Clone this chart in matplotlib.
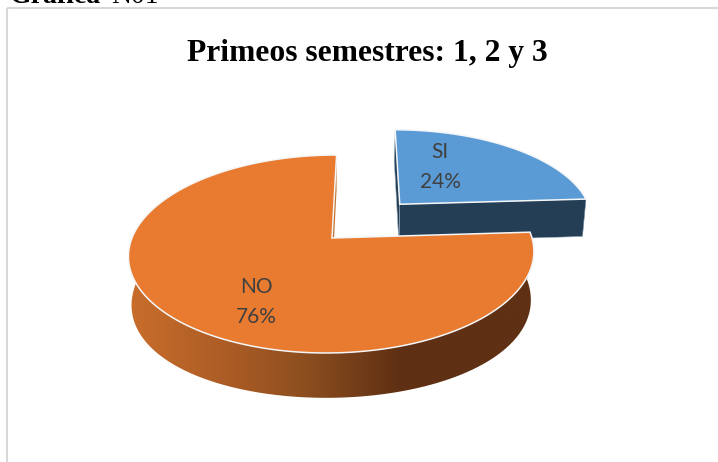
import numpy as np
import matplotlib
matplotlib.use("Agg")
import matplotlib.pyplot as plt
from matplotlib.colors import LinearSegmentedColormap
from matplotlib.patches import Polygon, Rectangle
from matplotlib.path import Path
from matplotlib.transforms import Transform

# data
categories = ["SI", "NO"]
values = [24, 76]
title = "Primeos semestres: 1, 2 y 3"

# style
COLORS = ["#5b9bd5", "#e97b30"]
WALL_BLUE = "#243f55"
WALL_ORANGE = "#c5702c"
TEXT = "#404040"
CX, CY, A, B, K, M, C, S = 332.0, 238.0, 200.0, 96.4, 0.1616, 0.015, 40.0, 0.025


def project(pts, z=0.0, bulge=0.0):
    pts = np.asarray(pts, dtype=float)
    d = 1 + K * pts[:, 1] + M * z
    depth = C * z * (1 + bulge * pts[:, 0] ** 2)
    return np.column_stack([CX + A * (pts[:, 0] + S * pts[:, 1]) / d,
                            CY - (B * pts[:, 1] - depth) / d])


class Projection(Transform):
    input_dims = output_dims = 2
    is_separable = False
    has_inverse = False

    def transform_non_affine(self, values):
        return project(values)

    def transform_path_non_affine(self, path):
        pts = []
        for bez, code in path.iter_bezier():
            if code == Path.MOVETO:
                pts.append(bez.control_points[0])
            else:
                pts.extend(bez(np.linspace(0, 1, 24))[1:])
        return Path(project(np.array(pts)))


def arc(w, t1=None, t2=None):
    t = np.radians(np.linspace(w.theta1 if t1 is None else t1,
                               w.theta2 if t2 is None else t2, 200))
    return np.column_stack([w.center[0] + w.r * np.cos(t),
                            w.center[1] + w.r * np.sin(t)])


def wall(top_pts, bulge=0.0):
    return np.vstack([project(top_pts, 0), project(top_pts[::-1], 1, bulge)])


plt.rcParams["font.family"] = ["Liberation Serif", "DejaVu Serif"]
fig = plt.figure(figsize=(7.18, 4.62), dpi=100)
ax = fig.add_axes([0, 0, 1, 1])

wedges, _ = ax.pie(values, explode=[0.51, 0], startangle=3.5, radius=1,
                   colors=COLORS, wedgeprops=dict(edgecolor="#f4f6f8", linewidth=1.1))
ax.set_axis_off()
blue, orange = wedges
proj = Projection() + ax.transData
for w, z in ((blue, 3), (orange, 6)):
    w.set_transform(proj)
    w.set_zorder(z)
    w.set_clip_on(False)

# slice walls
blue_arc = arc(blue)
ax.add_patch(Polygon(wall(blue_arc), fc=WALL_BLUE, ec="none", zorder=1))
for ang in (blue.theta1, blue.theta2):
    rim = arc(blue, ang, ang)[:1]
    seg = np.vstack([[blue.center], rim])
    ax.add_patch(Polygon(wall(seg), fc=WALL_BLUE, ec="#9fb2c2", lw=0.4, zorder=2))

rim = arc(orange, orange.theta1, orange.theta1)[:1]
ax.add_patch(Polygon(wall(np.vstack([[orange.center], rim])), fc=WALL_ORANGE,
                     ec="none", zorder=4))
side = Polygon(wall(arc(orange, 175, orange.theta2), bulge=0.22), fc="none", ec="none",
               transform=ax.transData)
ax.add_patch(side)
cmap = LinearSegmentedColormap.from_list(
    "side", [(0.0, "#c96e2c"), (0.27, "#a85a24"), (0.42, "#8f5020"),
             (0.67, "#5f3013"), (1.0, "#5f3013")])
img = ax.imshow(np.linspace(0, 1, 256)[None, :], cmap=cmap, aspect="auto",
                extent=(128, 534, 420, 230), zorder=5, interpolation="bilinear")
img.set_clip_path(side)

# frame
ax.add_patch(Rectangle((7, 8), 760, 500, fc="none", ec="#d9d9d9", lw=1.5, zorder=0))

# texts
ax.text(367, 61, title, ha="center", va="baseline", fontsize=22.7,
        fontweight="bold", color="black", zorder=8)
ax.text(10, 3, "Gráfica", ha="left", va="baseline", fontsize=20,
        fontweight="bold", color="black", zorder=8, clip_on=True)
ax.text(111, 3, "N01", ha="left", va="baseline", fontsize=20,
        color="black", zorder=8, clip_on=True)
label_xy = [(440, 167), (256, 302)]
for name, v, (x, y) in zip(categories, values, label_xy):
    ax.text(x, y, f"{name}\n{v}%", ha="center", va="center", fontsize=15,
            color=TEXT, family="Lato", linespacing=1.6, zorder=8)

ax.set_xlim(0, 718)
ax.set_ylim(462, 0)
fig.savefig("out.png", dpi=100)
